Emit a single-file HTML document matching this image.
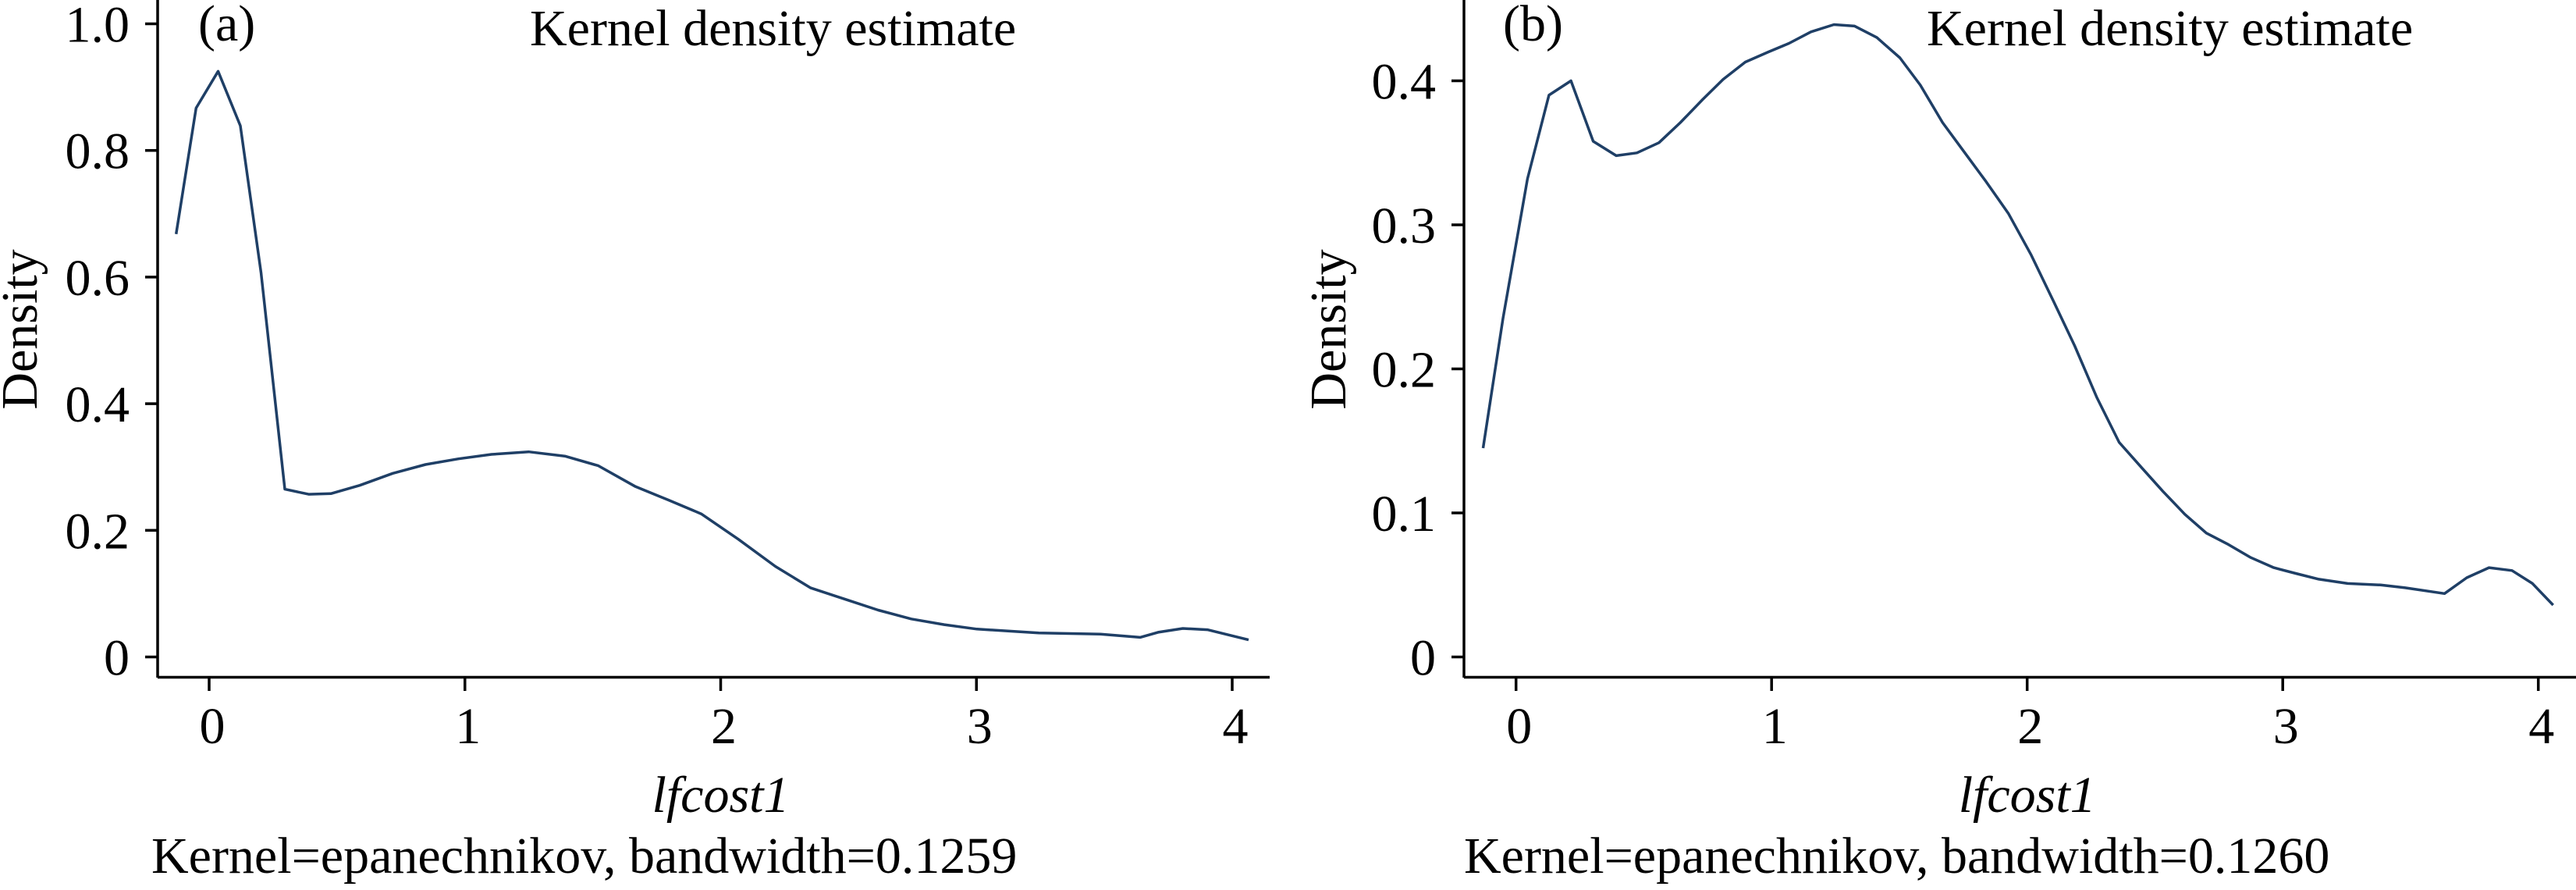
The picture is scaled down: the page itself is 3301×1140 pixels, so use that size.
<!DOCTYPE html>
<html><head><meta charset="utf-8"><style>
html,body{margin:0;padding:0;background:#fff;}
svg{display:block;}
text{font-family:"Liberation Serif",serif;fill:#000;}
</style></head><body>
<svg id="chart" width="3301" height="1140" viewBox="0 0 3301 1140" xmlns="http://www.w3.org/2000/svg">
<g id="pa"></g>
<g id="pb"></g>
</svg>
<script>
const xTickLabels = ["0","1","2","3","4"];
const xTickValues = [0,1,2,3,4];
const aYTickValues = [0,0.2,0.4,0.6,0.8,1.0];
const aYTickLabels = ["0","0.2","0.4","0.6","0.8","1.0"];
const bYTickValues = [0,0.1,0.2,0.3,0.4];
const bYTickLabels = ["0","0.1","0.2","0.3","0.4"];
const aX = [-0.129,-0.051,0.035,0.122,0.203,0.296,0.389,0.476,0.589,0.718,0.846,0.975,1.104,1.249,1.393,1.522,1.667,1.795,1.924,2.069,2.214,2.352,2.488,2.616,2.745,2.874,3.002,3.244,3.485,3.640,3.710,3.807,3.903,4.064];
const aY = [0.668,0.867,0.925,0.839,0.607,0.265,0.257,0.258,0.271,0.290,0.304,0.313,0.320,0.324,0.317,0.302,0.269,0.248,0.226,0.186,0.143,0.109,0.091,0.074,0.060,0.051,0.044,0.038,0.036,0.031,0.039,0.045,0.043,0.027];
const bX = [-0.129,-0.051,0.045,0.129,0.215,0.302,0.392,0.473,0.559,0.643,0.730,0.810,0.897,0.987,1.068,1.154,1.244,1.325,1.412,1.502,1.582,1.669,1.752,1.839,1.926,2.016,2.103,2.186,2.273,2.360,2.450,2.531,2.617,2.701,2.788,2.875,2.965,3.051,3.141,3.254,3.383,3.479,3.633,3.720,3.807,3.897,3.977,4.058];
const bY = [0.145,0.235,0.332,0.390,0.400,0.358,0.348,0.350,0.357,0.371,0.387,0.401,0.413,0.420,0.426,0.434,0.439,0.438,0.430,0.416,0.397,0.371,0.351,0.330,0.308,0.279,0.247,0.216,0.180,0.149,0.131,0.115,0.099,0.086,0.078,0.069,0.062,0.058,0.054,0.051,0.050,0.048,0.044,0.055,0.062,0.060,0.051,0.036];

const NS="http://www.w3.org/2000/svg";
const FS=66;
function mk(parent, tag, attrs, txt){
  const e=document.createElementNS(NS,tag);
  for(const k in attrs) e.setAttribute(k,attrs[k]);
  if(txt!==undefined) e.textContent=txt;
  parent.appendChild(e); return e;
}
function panel(g, cfg){
  const sx=v=>cfg.x0+(v)*cfg.xu;
  const sy=v=>cfg.y0-(v)*cfg.yu;
  let e;
  e=mk(g,"line",{x1:cfg.ax,y1:0,x2:cfg.ax,y2:868,stroke:"#000","stroke-width":3.5});
  
  
  e=mk(g,"line",{x1:cfg.ax,y1:867.5,x2:cfg.axEnd,y2:867.5,stroke:"#000","stroke-width":3.5});
  
  
  cfg.yt.forEach((v,i)=>{
    let t=mk(g,"line",{x1:cfg.ax-16,y1:sy(v),x2:cfg.ax,y2:sy(v),stroke:"#000","stroke-width":3.5});
    
    
    let l=mk(g,"text",{x:cfg.ax-36,y:sy(v)+23,"text-anchor":"end","font-size":FS},cfg.yl[i]);
    
    
  });
  xTickValues.forEach((v,i)=>{
    let t=mk(g,"line",{x1:sx(v),y1:867,x2:sx(v),y2:885,stroke:"#000","stroke-width":3.5});
    
    
    let l=mk(g,"text",{x:sx(v)+4,y:952,"text-anchor":"middle","font-size":FS},xTickLabels[i]);
    
    
  });
  const pts=cfg.xs.map((x,i)=>sx(x).toFixed(1)+","+sy(cfg.ys[i]).toFixed(1)).join(" ");
  e=mk(g,"polyline",{points:pts,fill:"none",stroke:"#1f3f66","stroke-width":3.5,"stroke-linejoin":"round"});
  
  
  e=mk(g,"text",{x:cfg.labX,y:52,"font-size":FS},cfg.lab);
  
  
  e=mk(g,"text",{x:cfg.titleX,y:58,"font-size":FS},"Kernel density estimate");
  
  
  e=mk(g,"text",{x:cfg.yLabX,y:422,"font-size":FS,"text-anchor":"middle",transform:`rotate(-90 ${cfg.yLabX} 422)`},"Density");
  
  
  e=mk(g,"text",{x:sx(2),y:1040,"font-size":FS,"font-style":"italic","text-anchor":"middle"},"lfcost1");
  
  
  e=mk(g,"text",{x:cfg.noteX,y:1118,"font-size":FS},cfg.note);
  
  
}
panel(document.getElementById("pa"),{x0:268,xu:327.75,y0:841.5,yu:811,ax:202,axEnd:1627,yt:aYTickValues,yl:aYTickLabels,xs:aX,ys:aY,labX:254,lab:"(a)",titleX:679,yLabX:47,noteX:194,note:"Kernel=epanechnikov, bandwidth=0.1259"});
panel(document.getElementById("pb"),{x0:1942.7,xu:327.5,y0:841.5,yu:1845,ax:1876,axEnd:3301,yt:bYTickValues,yl:bYTickLabels,xs:bX,ys:bY,labX:1926,lab:"(b)",titleX:2469,yLabX:1724,noteX:1876,note:"Kernel=epanechnikov, bandwidth=0.1260"});
</script>
</body></html>
